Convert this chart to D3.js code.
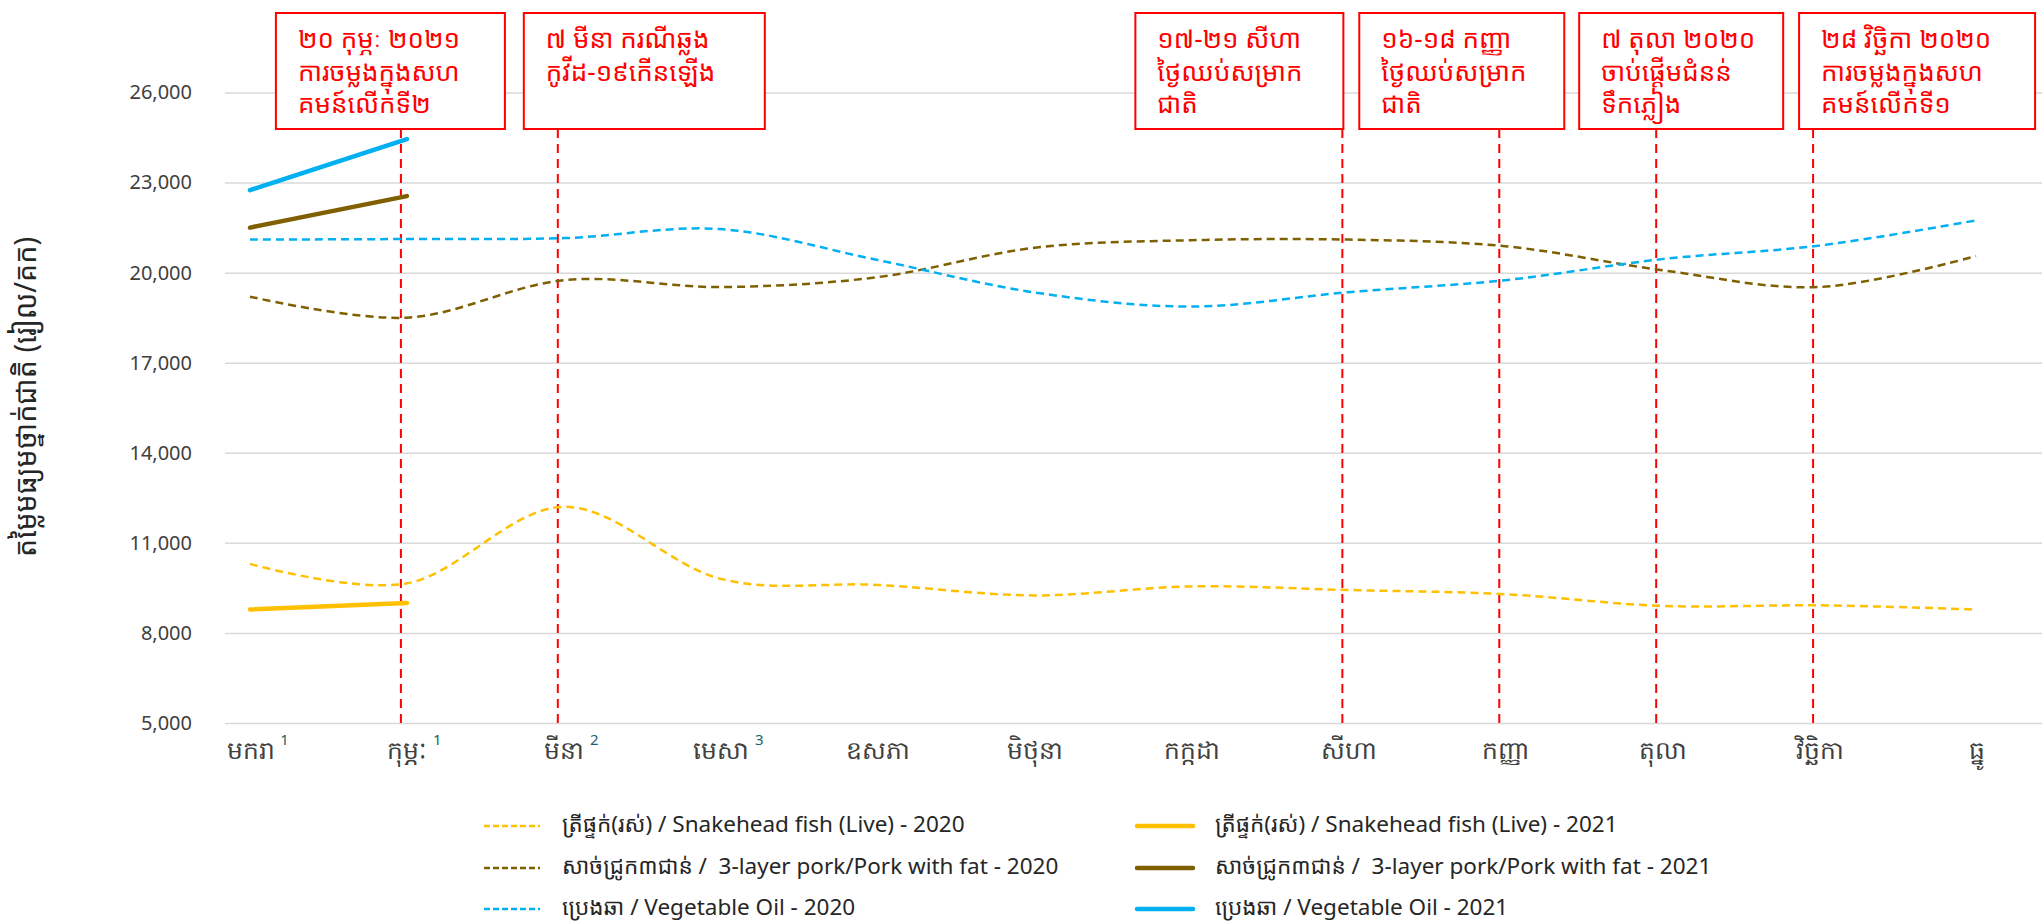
<!DOCTYPE html>
<html>
<head>
<meta charset="utf-8">
<script src="https://cdn.jsdelivr.net/npm/d3@7"></script>
<style>
  html, body { margin: 0; padding: 0; background: #fff; }
  svg { display: block; font-family: "Noto Sans Khmer", "Khmer OS System", "Khmer OS", "Noto Sans", "Open Sans", sans-serif; }
</style>
</head>
<body>
<svg id="chart" width="2042" height="923"></svg>
<script>
// ---------- DATA ----------
const months = ["មករា","កុម្ភៈ","មីនា","មេសា","ឧសភា","មិថុនា","កក្កដា","សីហា","កញ្ញា","តុលា","វិច្ឆិកា","ធ្នូ"];
const monthNotes = ["1","1","2","3","","","","","","","",""];
const yTicks = [5000, 8000, 11000, 14000, 17000, 20000, 23000, 26000];

const fish2020 = [10300, 9650, 12200, 9800, 9600, 9250, 9550, 9430, 9290, 8900, 8920, 8780];
const pork2020 = [19200, 18500, 19750, 19520, 19850, 20830, 21080, 21100, 20880, 20080, 19520, 20550];
const oil2020  = [21100, 21120, 21150, 21450, 20420, 19340, 18870, 19350, 19750, 20450, 20900, 21740];
const fish2021 = [8780, 9000];
const pork2021 = [21500, 22550];
const oil2021  = [22750, 24450];

const seriesLabels = [
  "ត្រីផ្ទក់(រស់) / Snakehead fish (Live) - 2020",
  "សាច់ជ្រូក៣ជាន់ /  3-layer pork/Pork with fat - 2020",
  "ប្រេងឆា / Vegetable Oil - 2020",
  "ត្រីផ្ទក់(រស់) / Snakehead fish (Live) - 2021",
  "សាច់ជ្រូក៣ជាន់ /  3-layer pork/Pork with fat - 2021",
  "ប្រេងឆា / Vegetable Oil - 2021"
];
const seriesValues = [fish2020, pork2020, oil2020, fish2021, pork2021, oil2021];
const seriesColors = ["#FFC000", "#7F6000", "#00B0F0", "#FFC000", "#7F6000", "#00B0F0"];
const seriesDashed = [true, true, true, false, false, false];

const yTitle = "តម្លៃមធ្យមថ្នាក់ជាតិ (រៀល/គក)";

const annotationMonths = [1, 2, 7, 8, 9, 10];
const annotationTexts = [
  ["២០ កុម្ភៈ ២០២១", "ការចម្លងក្នុងសហ", "គមន៍លើកទី២"],
  ["៧ មីនា ករណីឆ្លង", "កូវីដ-១៩កើនឡើង"],
  ["១៧-២១ សីហា", "ថ្ងៃឈប់សម្រាក", "ជាតិ"],
  ["១៦-១៨ កញ្ញា", "ថ្ងៃឈប់សម្រាក", "ជាតិ"],
  ["៧ តុលា ២០២០", "ចាប់ផ្តើមជំនន់", "ទឹកភ្លៀង"],
  ["២៨ វិច្ឆិកា ២០២០", "ការចម្លងក្នុងសហ", "គមន៍លើកទី១"]
];
// box layout (offset of box left edge from the marker line, box width)
const annotationBoxOffset = [-125, -34, -207, -140, -77, -14];
const annotationBoxWidth  = [229, 241, 208, 205, 204, 236];

// ---------- LAYOUT ----------
const svg = d3.select("#chart");
const gridLeft = 225, gridRight = 2042;
const x = d3.scalePoint().domain(months).range([250, 1976]);
const y = d3.scaleLinear().domain([5000, 26000]).range([723, 92.5]);

// gridlines + y labels
const yAxis = d3.axisLeft(y).tickValues(yTicks).tickFormat(d3.format(",")).tickSize(-(gridRight - gridLeft)).tickPadding(33);
const gy = svg.append("g").attr("transform", `translate(${gridLeft},0)`).call(yAxis);
gy.select(".domain").remove();
gy.selectAll(".tick line").attr("stroke", "#d9d9d9").attr("stroke-width", 1.5);
gy.selectAll(".tick text").attr("fill", "#404040").style("font-size", "20px").style("font-family", "'Noto Sans','Open Sans',sans-serif");

// x labels
const xAxis = d3.axisBottom(x).tickSize(0).tickPadding(18);
const gx = svg.append("g").attr("transform", `translate(0,${y(5000)})`).call(xAxis);
gx.select(".domain").remove();
gx.selectAll(".tick text").attr("fill", "#404040").style("font-size", "25px");
gx.selectAll(".tick").each(function(d, i) {
  if (!monthNotes[i]) return;
  const g = d3.select(this);
  const bb = g.select("text").node().getBBox();
  g.append("text")
    .text(monthNotes[i])
    .attr("x", bb.x + bb.width + 10).attr("y", 22)
    .attr("fill", "#1f5f6b")
    .style("font-size", "15px")
    .style("font-family", "'Noto Sans',sans-serif")
    .attr("text-anchor", "middle");
});

// y title
svg.append("text")
  .attr("transform", `translate(28,397) rotate(-90)`)
  .attr("text-anchor", "middle")
  .attr("dominant-baseline", "middle")
  .attr("fill", "#262626")
  .style("font-size", "30px")
  .attr("textLength", 320)
  .attr("lengthAdjust", "spacingAndGlyphs")
  .text(yTitle);

// annotation lines and boxes
const boxTop = 13, boxBottom = 129;
annotationMonths.forEach((m, i) => {
  const lx = x(months[m]) - 6;
  svg.append("line")
    .attr("x1", lx).attr("x2", lx)
    .attr("y1", boxBottom).attr("y2", y(5000))
    .attr("stroke", "#ff0000").attr("stroke-width", 2)
    .attr("stroke-dasharray", "9,6");
  const bx = lx + annotationBoxOffset[i];
  svg.append("rect")
    .attr("x", bx).attr("y", boxTop)
    .attr("width", annotationBoxWidth[i]).attr("height", boxBottom - boxTop)
    .attr("fill", "#fff").attr("stroke", "#ff0000").attr("stroke-width", 2);
  const t = svg.append("text")
    .attr("fill", "#ff0000")
    .style("font-size", "26px");
  annotationTexts[i].forEach((line, j) => {
    t.append("tspan").attr("x", bx + 22).attr("y", boxTop + 35 + j * 32.5).text(line);
  });
});

// series lines
const line = d3.line()
  .x((d, i) => x(months[i]))
  .y(d => y(d))
  .curve(d3.curveCardinal.tension(0));

seriesValues.forEach((vals, i) => {
  svg.append("path")
    .datum(vals)
    .attr("d", line)
    .attr("fill", "none")
    .attr("stroke", seriesColors[i])
    .attr("stroke-width", seriesDashed[i] ? 2.5 : 4.5)
    .attr("stroke-dasharray", seriesDashed[i] ? "8,5" : null)
    .attr("stroke-linecap", seriesDashed[i] ? "butt" : "round");
});

// legend
const legendCols = [484, 1137];
const legendRows = [826, 868, 909];
seriesLabels.forEach((lab, i) => {
  const col = Math.floor(i / 3), row = i % 3;
  const lx = legendCols[col], ly = legendRows[row];
  svg.append("line")
    .attr("x1", lx).attr("x2", lx + 56)
    .attr("y1", ly).attr("y2", ly)
    .attr("stroke", seriesColors[i])
    .attr("stroke-width", seriesDashed[i] ? 2.5 : 4.5)
    .attr("stroke-dasharray", seriesDashed[i] ? "6,3" : null)
    .attr("stroke-linecap", seriesDashed[i] ? "butt" : "round");
  svg.append("text")
    .attr("x", lx + 78).attr("y", ly)
    .attr("dominant-baseline", "middle")
    .attr("fill", "#262626")
    .style("font-size", "22.5px")
    .style("white-space", "pre")
    .text(lab);
});
</script>
</body>
</html>
